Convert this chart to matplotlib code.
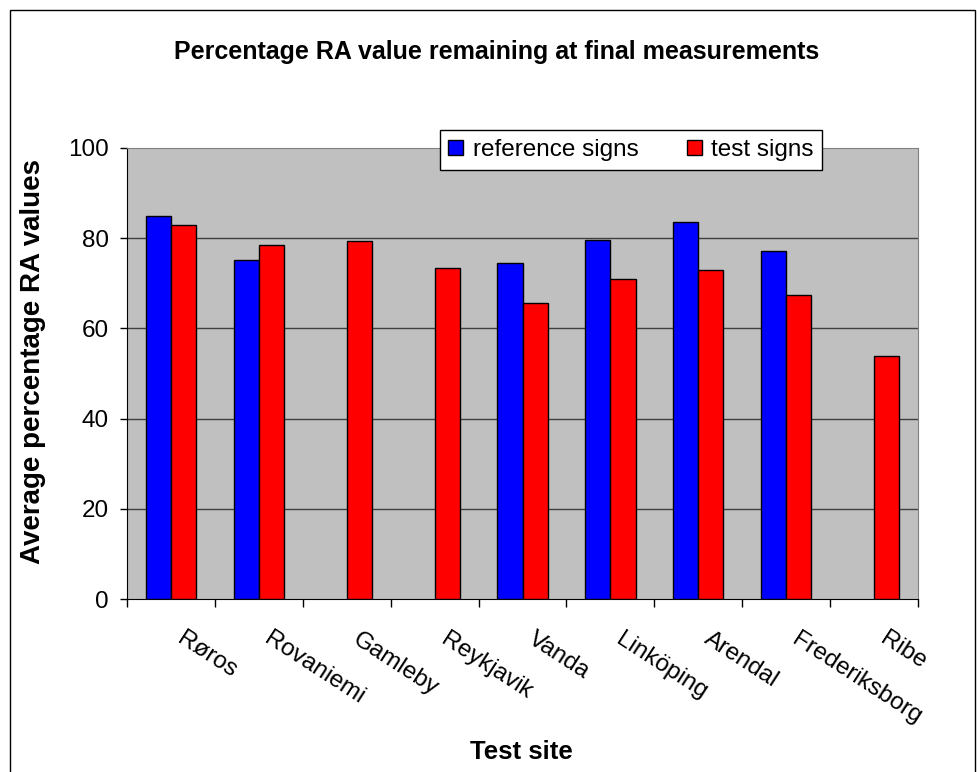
import numpy as np
import matplotlib
matplotlib.use("Agg")
import matplotlib.pyplot as plt
from matplotlib.patches import Rectangle

# data
sites = ["Røros", "Rovaniemi", "Gamleby", "Reykjavik", "Vanda",
         "Linköping", "Arendal", "Frederiksborg", "Ribe"]
reference = [85.0, 75.1, np.nan, np.nan, 74.4, 79.7, 83.5, 77.2, np.nan]
test = [82.9, 78.6, 79.3, 73.3, 65.6, 70.9, 72.9, 67.3, 53.9]
yticks = [0, 20, 40, 60, 80, 100]

plt.rcParams['font.family'] = ['Liberation Sans', 'DejaVu Sans']

W, H = 977, 772
fig = plt.figure(figsize=(W / 100, H / 100), dpi=100)

# outer chart border
fig.patches.append(Rectangle((9.5 / W, -0.01), (975 - 9.5) / W, 1.01 - 9.5 / H,
                             transform=fig.transFigure, fill=False,
                             edgecolor='black', linewidth=1.0))

ax = fig.add_axes([127 / W, 1 - 599 / H, (918 - 127) / W, (599 - 148) / H])
ax.set_facecolor('#C0C0C0')

x = np.arange(len(sites))
w = 1 / 3.5
ax.bar(x - w / 2, reference, w, color='#0000FF', edgecolor='black',
       linewidth=1.0, label='reference signs', zorder=3)
ax.bar(x + w / 2, test, w, color='#FF0000', edgecolor='black',
       linewidth=1.0, label='test signs', zorder=3)

ax.set_xlim(-0.5, len(sites) - 0.5)
ax.set_ylim(0, 100)
ax.set_yticks(yticks)
ax.tick_params(axis='y', labelsize=17.5, direction='out', length=5, width=1,
               pad=8)
for v in yticks[1:-1]:
    ax.axhline(v, color='#404040', linewidth=1.0, zorder=1)

# category boundary ticks
ax.set_xticks(np.arange(len(sites) + 1) - 0.5)
ax.set_xticklabels([])
ax.tick_params(axis='x', direction='out', length=6, width=1)
for i, s in enumerate(sites):
    ax.annotate(s, xy=(i, 0), xycoords=('data', 'axes fraction'),
                xytext=(10, -21), textcoords='offset points',
                rotation=-33, rotation_mode='anchor', ha='left', va='top',
                fontsize=17.5)

for side in ['top', 'right']:
    ax.spines[side].set_color('#808080')
for side in ['left', 'bottom']:
    ax.spines[side].set_color('black')

fig.text(497 / W, 1 - 52 / H,
         'Percentage RA value remaining at final measurements',
         ha='center', va='center', fontsize=18, fontweight='bold')
fig.text(33 / W, 1 - 362 / H, 'Average percentage RA values',
         rotation=90, ha='center', va='center', fontsize=20,
         fontweight='bold')
fig.text(521 / W, 1 - 752 / H, 'Test site', ha='center', va='center',
         fontsize=18.5, fontweight='bold')

leg = ax.legend(loc='center', bbox_to_anchor=((631 - 127) / 791, (599 - 150) / 451),
                ncol=2, fontsize=17.5, frameon=True, fancybox=False,
                edgecolor='black', framealpha=1, borderpad=0.35,
                handlelength=0.6, handleheight=0.6, handletextpad=0.4,
                columnspacing=2.0)
leg.get_frame().set_linewidth(1.0)

fig.savefig('out.png', dpi=100)
